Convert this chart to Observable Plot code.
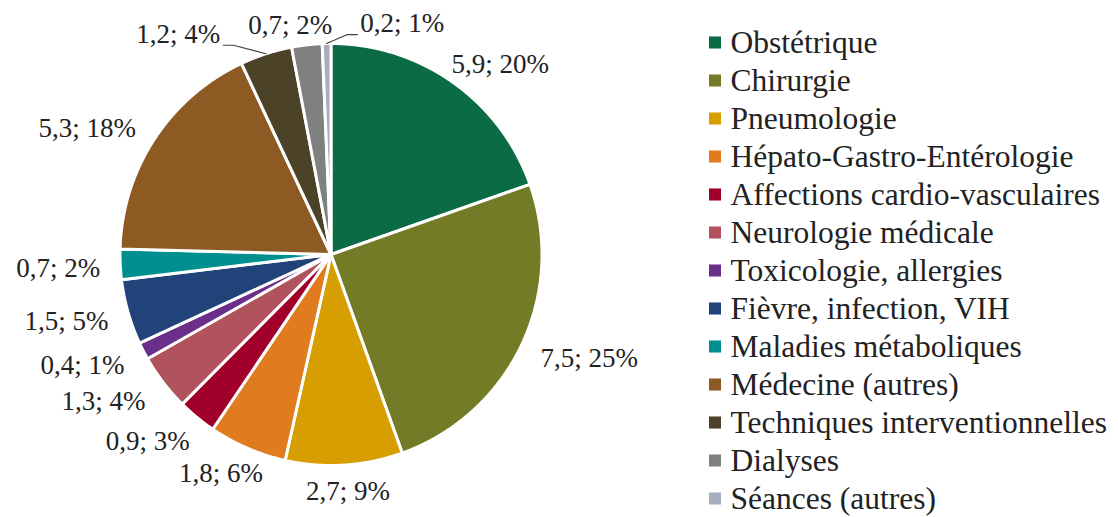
<!DOCTYPE html>
<html>
<head>
<meta charset="utf-8">
<script src="https://cdn.jsdelivr.net/npm/d3@7"></script>
<script src="https://cdn.jsdelivr.net/npm/@observablehq/plot@0.6"></script>
<style>
  body { margin: 0; background: #fff; }
  #wrap { position: relative; width: 1118px; height: 517px; display: flex; overflow: hidden; }
  #wrap svg { display: block; flex-shrink: 0; }
  #wrap text { font-family: "Liberation Serif", "Times New Roman", Tinos, "DejaVu Serif", serif; }
</style>
</head>
<body>
<div id="wrap"></div>
<script>
// ---- data ----
const categories = [
  "Obstétrique",
  "Chirurgie",
  "Pneumologie",
  "Hépato-Gastro-Entérologie",
  "Affections cardio-vasculaires",
  "Neurologie médicale",
  "Toxicologie, allergies",
  "Fièvre, infection, VIH",
  "Maladies métaboliques",
  "Médecine (autres)",
  "Techniques interventionnelles",
  "Dialyses",
  "Séances (autres)"
];
const values   = [5.9, 7.5, 2.7, 1.8, 0.9, 1.3, 0.4, 1.5, 0.7, 5.3, 1.2, 0.7, 0.2];
const percents = [20, 25, 9, 6, 3, 4, 1, 5, 2, 18, 4, 2, 1];
const colors = [
  "#0b6b45", "#747b27", "#d69e00", "#e07b1f", "#a0002a", "#b0535c", "#6b2f8a",
  "#22427a", "#008f8f", "#8d5a23", "#4b4228", "#808080", "#a6aec0"
];

// ---- layout ----
const FONT = '"Liberation Serif", "Times New Roman", Tinos, "DejaVu Serif", serif';
const TEXT = "#222222";
const W1 = 690, W2 = 428, H = 517;
const CX = 330.5, CY = 254, R = 211;
const LABEL_SIZE = 27, LEGEND_SIZE = 31.5;

const rows = categories.map((c, i) => ({
  cat: c, value: values[i], pct: percents[i],
  label: `${String(values[i]).replace(".", ",")}; ${percents[i]}%`
}));

const arcs = d3.pie().sort(null).value(d => d.value)(rows);

// slice polygons in unit-circle data space (y up)
const slicePts = arcs.flatMap(a => {
  const n = Math.max(4, Math.ceil((a.endAngle - a.startAngle) / 0.004));
  const pts = [{cat: a.data.cat, x: 0, y: 0}];
  for (let k = 0; k <= n; k++) {
    const t = a.startAngle + (a.endAngle - a.startAngle) * k / n;
    pts.push({cat: a.data.cat, x: Math.sin(t), y: Math.cos(t)});
  }
  pts.push({cat: a.data.cat, x: 0, y: 0});
  return pts;
});

// label placement (pixels relative to pie center, y down)
const ctx = document.createElement("canvas").getContext("2d");
ctx.font = `${LABEL_SIZE}px ${FONT}`;
const GAP = 10, BOXPAD = 10, LH = 26;
const labels = arcs.map(a => {
  const m = (a.startAngle + a.endAngle) / 2;
  const dx = Math.sin(m), dy = -Math.cos(m);
  const s = 1 / Math.max(Math.abs(dx), Math.abs(dy));
  const w = ctx.measureText(a.data.label).width;
  const cx = (R + GAP) * dx + s * dx * (w / 2 + BOXPAD);
  const cy = (R + GAP) * dy + s * dy * LH / 2 + 3;
  return {cat: a.data.cat, text: a.data.label, m, w, h: LH, cx, cy, cx0: cx, cy0: cy, ax: R * dx, ay: R * dy};
});

// simple tangential de-overlap (keeps the original order of labels)
const PADX = 28, PADY = 2;
for (let it = 0; it < 400; it++) {
  let moved = false;
  for (let i = 0; i < labels.length; i++) {
    for (let j = i + 1; j < labels.length; j++) {
      const A = labels[i], B = labels[j];
      const ox = (A.w + B.w) / 2 + PADX - Math.abs(A.cx - B.cx);
      const oy = (A.h + B.h) / 2 + PADY - Math.abs(A.cy - B.cy);
      if (ox > 0.01 && oy > 0.01) {
        const mm = (A.m + B.m) / 2;
        if (Math.abs(Math.cos(mm)) > Math.abs(Math.sin(mm))) {
          const sg = Math.sign(B.cx0 - A.cx0) || 1;
          const need = (A.w + B.w) / 2 + PADX - sg * (B.cx - A.cx);
          A.cx -= sg * need / 2; B.cx += sg * need / 2;
        } else {
          const sg = Math.sign(B.cy0 - A.cy0) || 1;
          const need = (A.h + B.h) / 2 + PADY - sg * (B.cy - A.cy);
          A.cy -= sg * need / 2; B.cy += sg * need / 2;
        }
        moved = true;
      }
    }
  }
  if (!moved) break;
}

// leader lines for labels pushed away from their default spot
const leaders = labels.filter(l => Math.hypot(l.cx - l.cx0, l.cy - l.cy0) > 20).flatMap(l => {
  const side = l.ax < l.cx ? -1 : 1;
  const ex = l.cx + side * (l.w / 2 + 3), ey = l.cy + 11;
  const sx = ex + side * 10;
  return [
    {cat: l.cat, x: ex / R, y: -ey / R},
    {cat: l.cat, x: sx / R, y: -ey / R},
    {cat: l.cat, x: l.ax / R, y: -l.ay / R}
  ];
});

const colorScale = {domain: categories, range: colors};

const pie = Plot.plot({
  width: W1, height: H, margin: 0,
  style: {fontFamily: FONT, overflow: "visible", background: "transparent"},
  x: {domain: [-1, 1], range: [CX - R, CX + R], axis: null},
  y: {domain: [-1, 1], range: [CY + R, CY - R], axis: null},
  color: colorScale,
  marks: [
    Plot.line(slicePts, {x: "x", y: "y", z: "cat", fill: "cat", stroke: "white", strokeWidth: 3, strokeLinejoin: "round", curve: "linear"}),
    Plot.line(leaders, {x: "x", y: "y", z: "cat", stroke: "#404040", strokeWidth: 1.2, curve: "linear"}),
    Plot.text(labels, {x: d => d.cx / R, y: d => -d.cy / R, text: "text", fontSize: LABEL_SIZE, fill: TEXT, textAnchor: "middle", lineAnchor: "middle"})
  ]
});

const legend = Plot.plot({
  width: W2, height: H, margin: 0,
  style: {fontFamily: FONT, overflow: "visible", background: "transparent"},
  x: {domain: [0, 1], range: [24.5, 40], axis: null},
  y: {type: "point", padding: 0, domain: categories, range: [38, 502.5], axis: null},
  color: colorScale,
  marks: [
    Plot.dot(categories, {x: 0, y: d => d, fill: d => d, symbol: "square", r: 6.8}),
    Plot.text(categories, {x: 1, y: d => d, text: d => d, textAnchor: "start", lineAnchor: "middle", fontSize: LEGEND_SIZE, fill: TEXT})
  ]
});

document.getElementById("wrap").append(pie, legend);
</script>
</body>
</html>
